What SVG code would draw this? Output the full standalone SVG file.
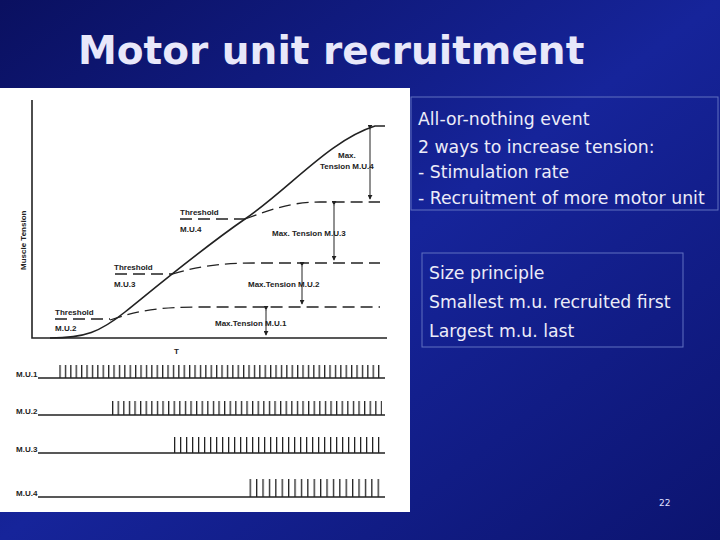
<svg xmlns="http://www.w3.org/2000/svg" width="720" height="540" viewBox="0 0 720 540">
<defs>
<linearGradient id="bg" x1="0" y1="0" x2="1" y2="1"><stop offset="0" stop-color="#0a1060"/><stop offset="0.5" stop-color="#16249a"/><stop offset="1" stop-color="#0c1470"/></linearGradient>
<pattern id="s1" width="5.4" height="14" patternUnits="userSpaceOnUse"><rect x="0" y="0" width="1.3" height="14" fill="#222"/></pattern>
<pattern id="s2" width="5.6" height="14" patternUnits="userSpaceOnUse"><rect x="0" y="0" width="1.3" height="14" fill="#222"/></pattern>
<pattern id="s3" width="6" height="16" patternUnits="userSpaceOnUse"><rect x="0" y="0" width="1.3" height="16" fill="#222"/></pattern>
<pattern id="s4" width="6.4" height="18" patternUnits="userSpaceOnUse"><rect x="0" y="0" width="1.3" height="18" fill="#222"/></pattern>
<marker id="ar" viewBox="0 0 6 6" refX="5" refY="3" markerWidth="5" markerHeight="5" orient="auto"><path d="M0,0L6,3L0,6z" fill="#222"/></marker>
<style>
.t{font-family:"DejaVu Sans",Verdana,sans-serif;font-size:17.3px;fill:#ececf8}
.g{font-family:"Liberation Sans",Arial,sans-serif;font-weight:bold;font-size:8px;fill:#222}
.ln{stroke:#222;stroke-width:1.6;fill:none}
.da{stroke:#222;stroke-width:1.3;fill:none;stroke-dasharray:12 6}
.ar{stroke:#222;stroke-width:1;marker-end:url(#ar);marker-start:url(#ar)}
</style>
</defs>
<rect width="720" height="540" fill="url(#bg)"/>
<text x="78" y="64" font-family="DejaVu Sans,Verdana,sans-serif" font-weight="bold" font-size="39" fill="#e8e8fa">Motor unit recruitment</text>
<rect x="0" y="88" width="410" height="424" fill="#fff"/>
<g id="graph">
<path class="ln" d="M32,100V338H387"/>
<path class="ln" d="M50,338C85,338 100,332 125,312S200,250 245,219S330,140 375,126H385"/>
<path class="da" d="M110,320C140,310 160,307 200,307H380"/>
<path class="da" d="M172,274C200,266 220,263 260,263H380"/>
<path class="da" d="M245,219C270,210 290,202 320,202H380"/>
<path class="da" d="M55,319H110M115,274H172M180,219H245"/>
<line class="ar" x1="266" y1="310" x2="266" y2="335"/>
<line class="ar" x1="302" y1="266" x2="302" y2="304"/>
<line class="ar" x1="334" y1="205" x2="334" y2="260"/>
<line class="ar" x1="370" y1="129" x2="370" y2="199"/>
<text class="g" x="55" y="315">Threshold</text><text class="g" x="55" y="331">M.U.2</text>
<text class="g" x="114" y="270">Threshold</text><text class="g" x="114" y="287">M.U.3</text>
<text class="g" x="180" y="215">Threshold</text><text class="g" x="180" y="232">M.U.4</text>
<text class="g" x="215" y="326">Max.Tension  M.U.1</text>
<text class="g" x="248" y="287">Max.Tension  M.U.2</text>
<text class="g" x="272" y="236">Max.  Tension  M.U.3</text>
<text class="g" x="338" y="158">Max.</text><text class="g" x="320" y="169">Tension  M.U.4</text>
<text class="g" x="26" y="270" transform="rotate(-90 26 270)" font-size="10">Muscle Tension</text>
<text class="g" x="174" y="354" font-size="10">T</text>
</g>
<g id="trains">
<path class="ln" d="M38,378H385M38,415H385M38,453H385M38,497H385"/>
<rect x="58" y="365" width="324" height="13" fill="url(#s1)"/>
<rect x="110" y="401" width="272" height="14" fill="url(#s2)"/>
<rect x="172" y="437" width="210" height="16" fill="url(#s3)"/>
<rect x="247" y="479" width="135" height="18" fill="url(#s4)"/>
<text class="g" x="16" y="377">M.U.1</text>
<text class="g" x="16" y="414">M.U.2</text>
<text class="g" x="16" y="452">M.U.3</text>
<text class="g" x="16" y="496">M.U.4</text>
</g>
<g id="box1">
<rect x="411" y="97" width="307" height="113" fill="none" stroke="#6070c0" stroke-width="1"/>
<text class="t" x="418" y="125">All-or-nothing event</text>
<text class="t" x="418" y="153">2 ways to increase tension:</text>
<text class="t" x="418" y="178">- Stimulation rate</text>
<text class="t" x="418" y="204">- Recruitment of more motor unit</text>
</g>
<g id="box2">
<rect x="422" y="253" width="261" height="94" fill="none" stroke="#6070c0" stroke-width="1"/>
<text class="t" x="429" y="279">Size principle</text>
<text class="t" x="429" y="308">Smallest m.u. recruited first</text>
<text class="t" x="429" y="337">Largest m.u. last</text>
</g>
<text x="659" y="506" font-family="DejaVu Sans,sans-serif" font-size="9" fill="#e0e0ff">22</text>
</svg>
